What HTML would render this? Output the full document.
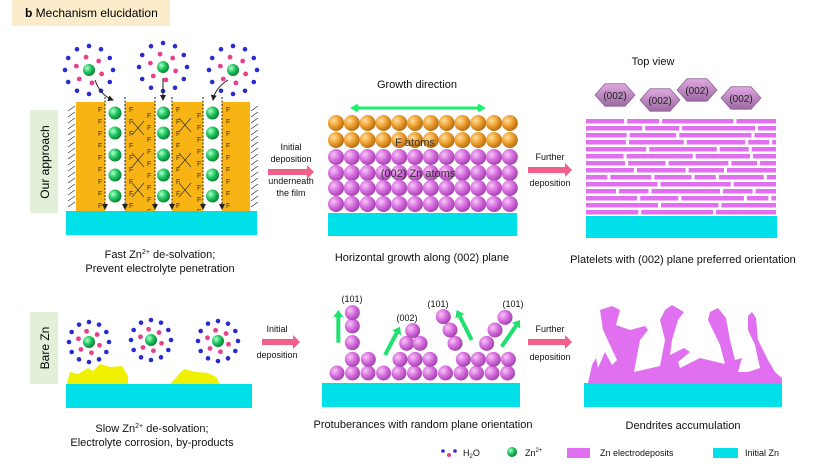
<!DOCTYPE html>
<html><head><meta charset="utf-8"><style>
body{margin:0;background:#fff}
svg{display:block;font-family:"Liberation Sans",Arial,sans-serif}
</style></head><body>
<svg id="s" width="831" height="466" viewBox="0 0 831 466" xmlns="http://www.w3.org/2000/svg">
<defs>
<radialGradient id="gp" cx="35%" cy="35%" r="70%"><stop offset="0" stop-color="#f6c8f6"/><stop offset=".5" stop-color="#d86ee0"/><stop offset="1" stop-color="#a040aa"/></radialGradient>
<radialGradient id="go" cx="35%" cy="35%" r="70%"><stop offset="0" stop-color="#ffe0a0"/><stop offset=".5" stop-color="#f0a030"/><stop offset="1" stop-color="#b06a10"/></radialGradient>
<radialGradient id="gg" cx="35%" cy="35%" r="70%"><stop offset="0" stop-color="#b0ffd0"/><stop offset=".5" stop-color="#20c860"/><stop offset="1" stop-color="#0a7a30"/></radialGradient>
<linearGradient id="gh" x1="0" y1="0" x2="0" y2="1"><stop offset="0" stop-color="#e0a8e0"/><stop offset="1" stop-color="#9a6aa0"/></linearGradient>
<marker id="ah" markerWidth="6" markerHeight="6" refX="5" refY="3" orient="auto"><path d="M0,0L6,3L0,6z" fill="#222"/></marker>
</defs>
<rect x="12" y="0" width="158" height="26" fill="#fdeccc"/>
<text x="25" y="17" font-size="12"><tspan font-weight="bold">b</tspan>  Mechanism elucidation</text>
<rect x="30" y="110" width="28" height="103" fill="#e2efd9"/>
<text transform="translate(49,162) rotate(-90)" font-size="12" text-anchor="middle">Our approach</text>
<rect x="30" y="312" width="28" height="72" fill="#e2efd9"/>
<text transform="translate(49,348) rotate(-90)" font-size="12" text-anchor="middle">Bare Zn</text>
<g id="g1"></g>
<rect x="66" y="211" width="191" height="24" fill="#00e0e8"/>
<rect x="328" y="213" width="189" height="23" fill="#00e0e8"/>
<rect x="586" y="216" width="191" height="22" fill="#00e0e8"/>
<rect x="66" y="384" width="186" height="24" fill="#00e0e8"/>
<rect x="322" y="383" width="198" height="24" fill="#00e0e8"/>
<rect x="584" y="383" width="198" height="24" fill="#00e0e8"/>
<path d="M67,383 L70,372 L78,374 L88,368 L93,371 L100,364 L110,367 L122,366 L128,376 L128,384 L67,384Z M170,384 L180,373 L184,369 L196,372 L208,373 L216,377 L220,384Z" fill="#f0f000"/>
<path d="M588,383 L592,365 L596,358 L598,368 L605,352 L612,365 L617,360 L603,330 L600,310 L612,306 L620,310 L616,325 L630,330 L645,326 L648,330 L640,340 L634,372 L660,366 L665,340 L660,320 L665,310 L672,305 L684,312 L678,320 L672,340 L670,355 L684,348 L690,352 L678,362 L680,368 L700,358 L725,364 L720,345 L708,320 L710,312 L718,308 L726,318 L730,340 L735,360 L742,358 L738,372 L748,372 L760,368 L755,345 L748,330 L748,316 L752,312 L756,318 L758,340 L768,360 L775,372 L782,378 L782,383Z" fill="#e070f0"/>
<g id="g2"></g>
<g font-size="11" text-anchor="middle" fill="#111">
<text x="160" y="258">Fast Zn<tspan font-size="7" dy="-4">2+</tspan><tspan dy="4"> de-solvation;</tspan></text>
<text x="160" y="272">Prevent electrolyte penetration</text>
<text x="291" y="150" font-size="9">Initial</text>
<text x="291" y="162" font-size="9">deposition</text>
<text x="291" y="184" font-size="9">underneath</text>
<text x="291" y="196" font-size="9">the film</text>
<text x="417" y="88">Growth direction</text>
<text x="415" y="146" fill="#333">F atoms</text>
<text x="418" y="177" fill="#333">(002) Zn atoms</text>
<text x="422" y="261">Horizontal growth along (002) plane</text>
<text x="550" y="160" font-size="9">Further</text>
<text x="550" y="186" font-size="9">deposition</text>
<text x="653" y="65">Top view</text>
<text x="683" y="263">Platelets with (002) plane preferred orientation</text>
<text x="152" y="432">Slow Zn<tspan font-size="7" dy="-4">2+</tspan><tspan dy="4"> de-solvation;</tspan></text>
<text x="152" y="446">Electrolyte corrosion, by-products</text>
<text x="277" y="332" font-size="9">Initial</text>
<text x="277" y="358" font-size="9">deposition</text>
<text x="550" y="332" font-size="9">Further</text>
<text x="550" y="360" font-size="9">deposition</text>
<text x="423" y="428">Protuberances with random plane orientation</text>
<text x="683" y="429">Dendrites accumulation</text>
<text x="352" y="302" font-size="9">(101)</text>
<text x="407" y="321" font-size="9">(002)</text>
<text x="438" y="307" font-size="9">(101)</text>
<text x="513" y="307" font-size="9">(101)</text>
</g>
<g font-size="9" fill="#111">
<text x="463" y="456">H<tspan font-size="6" dy="2">2</tspan><tspan dy="-2">O</tspan></text>
<text x="525" y="456">Zn<tspan font-size="6" dy="-4">2+</tspan></text>
<text x="600" y="456">Zn electrodeposits</text>
<text x="745" y="456">Initial Zn</text>
</g>
<rect x="567" y="448" width="23" height="10" fill="#e070f0"/>
<rect x="713" y="448" width="25" height="10" fill="#00e0e8"/>
</svg>
<script>
const NS="http://www.w3.org/2000/svg";
const g1=document.getElementById('g1'),g2=document.getElementById('g2');
function el(p,t,a){const e=document.createElementNS(NS,t);for(const k in a)e.setAttribute(k,a[k]);p.appendChild(e);return e;}
function ball(p,x,y,r,f){el(p,'circle',{cx:x,cy:y,r:r,fill:'url(#'+f+')'});}
// film
el(g1,'rect',{x:76,y:102,width:174,height:109,fill:'#f8b414'});
[[105,125],[155,172],[203,222]].forEach(c=>{el(g1,'rect',{x:c[0],y:102,width:c[1]-c[0],height:109,fill:'#fff'});
 [c[0],c[1]].forEach(x=>el(g1,'line',{x1:x,y1:97,x2:x,y2:209,stroke:'#222','stroke-width':1,'stroke-dasharray':'2,1.5','marker-end':'url(#ah)'}));
 const cx=(c[0]+c[1])/2;[113,133,155,175,196].forEach(y=>ball(g1,cx,y,6.5,'gg'));});
for(let y=106;y<208;y+=6){el(g1,'line',{x1:68,y1:y+5,x2:75,y2:y,stroke:'#333','stroke-width':.7});el(g1,'line',{x1:251,y1:y+5,x2:258,y2:y,stroke:'#333','stroke-width':.7});}
const ft=(x,y,t)=>{const e=el(g1,'text',{x:x,y:y,'font-size':7,fill:'#333'});e.textContent=t;};
for(let y=112;y<210;y+=12){ft(98,y,'F');ft(129,y,'F');ft(147,y+6,'F');ft(176,y,'F');ft(197,y+6,'F');ft(226,y,'F');}
[[138,128],[138,160],[138,190],[185,125],[185,160],[185,190]].forEach(p=>{el(g1,'path',{d:`M${p[0]-6},${p[1]-7}L${p[0]+6},${p[1]+7}M${p[0]+6},${p[1]-7}L${p[0]-6},${p[1]+7}`,stroke:'#333','stroke-width':.7,fill:'none'});});
// clusters
function cluster(cx,cy,r){for(let i=0;i<12;i++){const a=i/12*Math.PI*2;el(g1,'circle',{cx:cx+r*Math.cos(a),cy:cy+r*Math.sin(a),r:2.3,fill:'#2a2ad0'});}
 for(let i=0;i<6;i++){const a=i/6*Math.PI*2+.3;el(g1,'circle',{cx:cx+r*.55*Math.cos(a),cy:cy+r*.55*Math.sin(a),r:2.4,fill:'#e8408a'});}
 ball(g1,cx,cy,6,'gg');}
cluster(89,70,24);cluster(163,67,24);cluster(233,70,24);
cluster(89,342,20);cluster(151,340,20);cluster(218,341,20);
el(g1,'circle',{cx:443,cy:451,r:1.8,fill:'#2a2ad0'});el(g1,'circle',{cx:455,cy:451,r:1.8,fill:'#2a2ad0'});el(g1,'circle',{cx:449,cy:455,r:2,fill:'#e8408a'});
ball(g1,512,452,5,'gg');
el(g1,'path',{d:'M95,80 Q100,95 113,100',stroke:'#222',fill:'none','marker-end':'url(#ah)'});
el(g1,'path',{d:'M163,78 L163,100',stroke:'#222',fill:'none','marker-end':'url(#ah)'});
el(g1,'path',{d:'M228,80 Q215,88 213,100',stroke:'#222',fill:'none','marker-end':'url(#ah)'});
// pink arrows
function parrow(x1,x2,y){el(g1,'path',{d:`M${x1},${y-3}L${x2-7},${y-3}L${x2-7},${y-7}L${x2},${y}L${x2-7},${y+7}L${x2-7},${y+3}L${x1},${y+3}z`,fill:'#f0608a'});}
parrow(268,314,172);parrow(528,572,170);parrow(262,300,342);parrow(528,572,342);
// middle top spheres
for(let r=0;r<6;r++)for(let c=0;c<12;c++)ball(g2,336+c*15.8,[123,140,157,173,188,204][r],8,r<2?'go':'gp');
// growth arrow
el(g2,'path',{d:'M358,105L353,108L358,111M478,105L483,108L478,111M353,108L483,108',stroke:'#20f070','stroke-width':3,fill:'none'});
// re-draw text overlay order: texts are after g2 already
// bricks
let seed=3;const rnd=()=>{seed=(seed*9301+49297)%233280;return seed/233280;};
for(let r=0;r<14;r++){let y=119+r*7;let x=586;while(x<776){let w=20+rnd()*55;if(x+w>776)w=776-x;if(w>3)el(g2,'rect',{x:x,y:y,width:w,height:4.5,fill:'#e070f0'});x+=w+3;}}
// hexagons
[[615,95,'(002)'],[660,100,'(002)'],[697,90,'(002)'],[741,98,'(002)']].forEach(h=>{const [x,y]=h;let d='';for(let i=0;i<6;i++){const a=i/6*Math.PI*2;d+=(i?'L':'M')+(x+20*Math.cos(a))+','+(y+13*Math.sin(a));}
 el(g2,'path',{d:d+'z',fill:'url(#gh)',stroke:'#8a5a90','stroke-width':.7});const t=el(g2,'text',{x:x,y:y+4,'font-size':10,'text-anchor':'middle',fill:'#222'});t.textContent=h[2];});
// bottom middle spheres
const pts=[];for(let c=0;c<12;c++)pts.push([337+c*15.5,373]);
[[157,208],[157,158],[157,108],[157,68],[205,208],[300,208],[345,208],[390,208],[320,160],[360,160],[338,122],[490,208],[535,208],[580,208],[625,208],[465,160],[450,120],[430,80],[560,160],[585,120],[615,82]].forEach(p=>pts.push([p[0]/3+300,p[1]/3+290]));
pts.forEach(p=>ball(g2,p[0],p[1],7.5,'gp'));
[[115,158,115,60],[255,195,300,110],[515,150,470,60],[605,170,660,90]].forEach(a=>{const x1=a[0]/3+300,y1=a[1]/3+290,x2=a[2]/3+300,y2=a[3]/3+290;const dx=x2-x1,dy=y2-y1,L=Math.hypot(dx,dy),ux=dx/L,uy=dy/L;
 const bx=x2-ux*7,by=y2-uy*7;el(g2,'line',{x1:x1,y1:y1,x2:bx,y2:by,stroke:'#20e070','stroke-width':4});
 el(g2,'path',{d:`M${x2},${y2}L${bx-uy*5},${by+ux*5}L${bx+uy*5},${by-ux*5}z`,fill:'#20e070'});});
</script>
</body></html>
